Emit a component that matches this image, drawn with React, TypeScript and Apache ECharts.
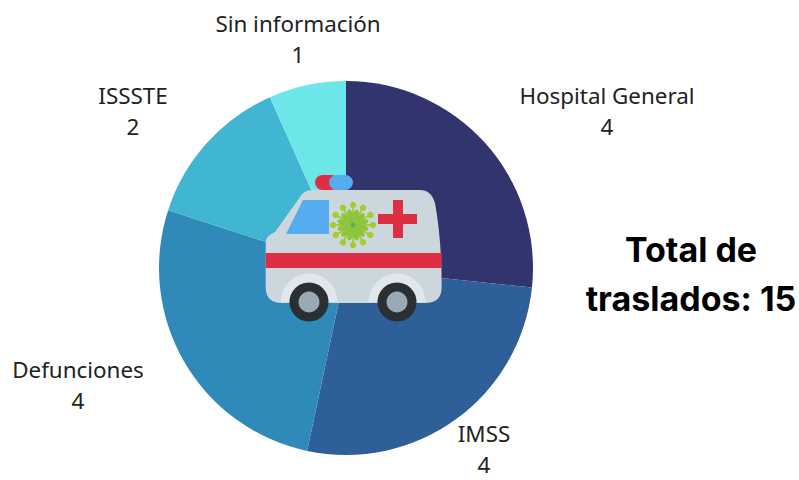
import React, { useEffect, useRef } from "react";
import * as echarts from "echarts";

const categories = ["Hospital General", "IMSS", "Defunciones", "ISSSTE", "Sin información"];
const values = [4, 4, 4, 2, 1];
const colors = ["#31346D", "#2E5F98", "#2F8AB9", "#40B6D3", "#6DE6EA"];
const labelCenters = [
  [607, 111],
  [484, 449],
  [78, 385],
  [133, 111],
  [298, 39],
];
const totalLines = ["Total de", "traslados: 15"];
const LABEL_FONT = "'Noto Sans', sans-serif";
const TOTAL_FONT = "Inter, sans-serif";

echarts.graphic.registerShape(
  "ambulanceBody",
  echarts.graphic.extendPath(
    "M312 190 L420 190 Q431 190 435 203 Q441.7 240 441.7 287 Q441.7 303 425 303 L282 303 Q265.7 303 265.7 287 L265.7 242 Q266 236 275 232 L300 197 Q304 190 312 190 Z",
    {}
  )
);

function virus(cx: number, cy: number) {
  const out: any[] = [];
  for (let i = 0; i < 12; i++) {
    const a = (i * Math.PI) / 6;
    const x = cx + Math.sin(a) * 20;
    const y = cy - Math.cos(a) * 20;
    out.push({
      type: "line",
      shape: { x1: cx, y1: cy, x2: x, y2: y },
      style: { stroke: "#A6CB2A", lineWidth: 1.8 },
    });
    out.push({ type: "circle", shape: { cx: x, cy: y, r: 3.2 }, style: { fill: "#A6CB2A" } });
    const mx = cx + Math.sin(a + Math.PI / 12) * 9;
    const my = cy - Math.cos(a + Math.PI / 12) * 9;
    out.push({
      type: "ellipse",
      x: mx,
      y: my,
      originX: 0,
      originY: 0,
      rotation: -(a + Math.PI / 12),
      shape: { cx: 0, cy: 0, rx: 3, ry: 7 },
      style: { fill: "#8CC63F" },
    });
  }
  out.push({ type: "circle", shape: { cx, cy, r: 7 }, style: { fill: "#8CC63F" } });
  out.push({ type: "circle", shape: { cx, cy, r: 2.6 }, style: { fill: "#5FAE5A" } });
  return out;
}

function wheel(cx: number, cy: number) {
  return [
    {
      type: "sector",
      shape: { cx, cy: cy, r: 28.5, r0: 0, startAngle: Math.PI, endAngle: 2 * Math.PI },
      style: { fill: "#E1E8ED" },
    },
    { type: "circle", shape: { cx, cy, r: 19.5 }, style: { fill: "#292F33" } },
    { type: "circle", shape: { cx, cy, r: 10.5 }, style: { fill: "#99AAB5" } },
  ];
}

export default function App() {
  const ref = useRef<HTMLDivElement>(null);
  useEffect(() => {
    const chart = echarts.init(ref.current!, undefined, { renderer: "svg" });
    const ambulance: any[] = [
      {
        type: "rect",
        shape: { x: 315, y: 175, width: 24, height: 15, r: 7.5 },
        style: { fill: "#DD2E44" },
      },
      {
        type: "rect",
        shape: { x: 329, y: 175, width: 24, height: 15, r: 7.5 },
        style: { fill: "#55ACEE" },
      },
      { type: "ambulanceBody", x: 0, y: 0, style: { fill: "#CCD6DD" } },
      {
        type: "polygon",
        shape: { points: [[303, 200], [329, 200], [329, 234], [286, 234]] },
        style: { fill: "#55ACEE" },
      },
      {
        type: "rect",
        shape: { x: 265.7, y: 253, width: 176, height: 15 },
        style: { fill: "#DD2E44" },
      },
      {
        type: "rect",
        shape: { x: 393, y: 200, width: 10, height: 38 },
        style: { fill: "#DD2E44" },
      },
      {
        type: "rect",
        shape: { x: 378, y: 214, width: 39, height: 10 },
        style: { fill: "#DD2E44" },
      },
      ...wheel(309, 302),
      ...wheel(397, 302),
      ...virus(353, 225),
    ];
    chart.setOption({
      animation: false,
      backgroundColor: "#ffffff",
      series: [
        {
          type: "pie",
          center: [346, 268],
          radius: [0, 187],
          startAngle: 90,
          clockwise: true,
          silent: true,
          data: categories.map((name, i) => ({
            name,
            value: values[i],
            itemStyle: { color: colors[i] },
          })),
          label: {
            show: true,
            formatter: "{b}\n{c}",
            color: "#222222",
            fontFamily: LABEL_FONT,
            fontSize: 22.4,
            lineHeight: 31,
            width: 220,
            overflow: "none",
            align: "center",
            verticalAlign: "middle",
          },
          labelLine: { show: false },
          labelLayout: (p: any) => ({
            x: labelCenters[p.dataIndex][0],
            y: labelCenters[p.dataIndex][1],
            align: "center",
            verticalAlign: "middle",
          }),
        },
      ],
      graphic: {
        elements: [
          {
            type: "text",
            x: 691,
            y: 249,
            style: {
              text: totalLines[0],
              fill: "#000000",
              font: `700 34px ${TOTAL_FONT}`,
              textAlign: "center",
              textVerticalAlign: "middle",
            },
          },
          {
            type: "text",
            x: 691,
            y: 298,
            style: {
              text: totalLines[1],
              fill: "#000000",
              font: `700 34px ${TOTAL_FONT}`,
              textAlign: "center",
              textVerticalAlign: "middle",
            },
          },
          ...ambulance.map((el, i) => ({ ...el, z: 20 + i / 1000 })),
        ],
      },
    });
    return () => chart.dispose();
  }, []);
  return <div ref={ref} style={{ position: "fixed", left: 0, top: 0, width: 799, height: 480 }} />;
}
